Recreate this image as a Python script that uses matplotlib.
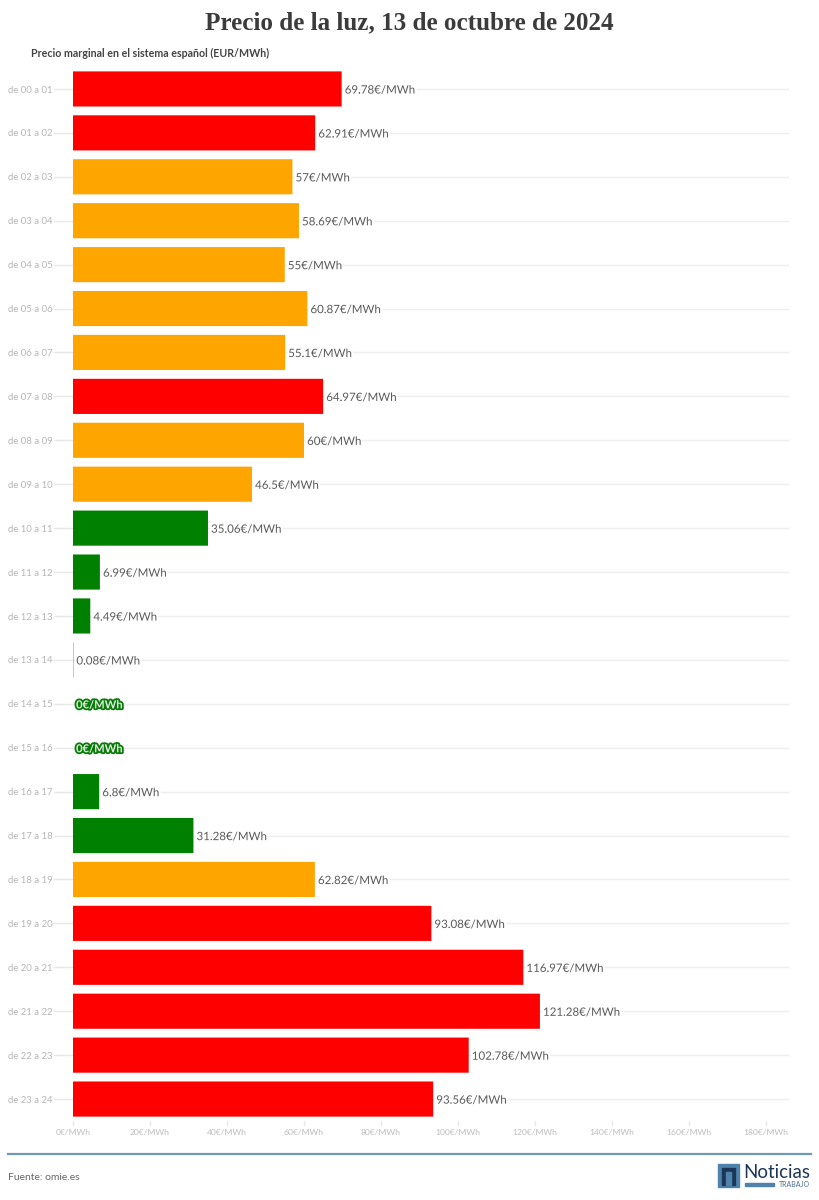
import matplotlib
matplotlib.use('Agg')
import matplotlib.pyplot as plt
import matplotlib.patheffects as pe
from matplotlib.patches import Rectangle

plt.rcParams['font.family'] = ['Lato', 'DejaVu Sans']

# data
horas = ['de %02d a %02d' % (h, h + 1) for h in range(24)]
precios = [69.78, 62.91, 57, 58.69, 55, 60.87, 55.1, 64.97, 60, 46.5, 35.06, 6.99,
           4.49, 0.08, 0, 0, 6.8, 31.28, 62.82, 93.08, 116.97, 121.28, 102.78, 93.56]
colores = ['red', 'red', 'orange', 'orange', 'orange', 'orange', 'orange', 'red',
           'orange', 'orange', 'green', 'green', 'green', 'green', 'green', 'green',
           'green', 'green', 'orange', 'red', 'red', 'red', 'red', 'red']
ticks = [0, 20, 40, 60, 80, 100, 120, 140, 160, 180]

W, H = 819, 1200
fig = plt.figure(figsize=(W / 100, H / 100), dpi=100, facecolor='white')

# axes box in pixels: x 73-789, y 67-1121
ax = fig.add_axes([73 / W, 1 - 1121 / H, (789 - 73) / W, (1121 - 67) / H])
ax.set_xlim(0, (789 - 73) / 3.85)
ax.set_ylim(23.5, -0.5)
ax.axis('off')

pos = list(range(24))
ax.hlines(pos, 0, 1, transform=ax.get_yaxis_transform(), color='#eeeeee', lw=1, zorder=1)
bars = ax.barh(pos, precios, height=0.8, color=colores, edgecolor='none', zorder=2)
for b in bars:
    b.set_snap(False)

dy = 0.025  # text sits about 1px lower than the line
for y, valor, lab in zip(pos, precios, horas):
    # little tick joining the hour label to the axis
    ax.plot([-5, 0], [y, y], color='#e8e8e8', lw=1, clip_on=False, zorder=1)
    ax.text(-5.2, y + dy, lab, ha='right', va='center', fontsize=6.9, color='#b5b5b5')
    txt = '%g€/MWh' % valor
    if valor == 0:
        t = ax.text(0.8, y + dy, txt, ha='left', va='center', fontsize=8, color='#dff0df',
                    fontweight='bold', zorder=4)
        t.set_path_effects([pe.withStroke(linewidth=2.6, foreground='#0a7a0a')])
    else:
        t = ax.text(valor + 0.8, y + dy, txt, ha='left', va='center', fontsize=8.3,
                    color='#5a5a5a', zorder=4)
        t.set_path_effects([pe.withStroke(linewidth=3, foreground='white')])

for v in ticks:
    ax.plot([v, v], [23.5, 23.6], color='#e8e8e8', lw=1, clip_on=False)
    ax.annotate('%d€/MWh' % v, (v, 23.5), xytext=(0, -8.6), textcoords='offset points',
                ha='center', va='center', fontsize=6.1, color='#bdbdbd', annotation_clip=False)

fig.text(409.5 / W, 1 - 23 / H, 'Precio de la luz, 13 de octubre de 2024', ha='center', va='center',
         fontsize=18.1, fontweight='bold', color='#3b3b3b', family=['Liberation Serif'])
fig.text(31 / W, 1 - 53 / H, 'Precio marginal en el sistema español (EUR/MWh)', ha='left', va='center',
         fontsize=7.65, fontweight='bold', color='#444444')

# footer
fig.add_artist(plt.Line2D([8 / W, 811 / W], [1 - 1154 / H] * 2, color='#6f9ab3', lw=1.6))
fig.text(8 / W, 1 - 1177 / H, 'Fuente: omie.es', ha='left', va='center', fontsize=7.5, color='#666666')

# logo
fig.add_artist(Rectangle((718 / W, 1 - 1187 / H), 21 / W, 23 / H, transform=fig.transFigure, color='#4f83ab'))
fig.add_artist(Rectangle((722 / W, 1 - 1185 / H), 13 / W, 17 / H, transform=fig.transFigure, color='#1d3557'))
fig.add_artist(Rectangle((726 / W, 1 - 1185 / H), 5 / W, 13 / H, transform=fig.transFigure, color='#4f83ab'))
fig.add_artist(Rectangle((745 / W, 1 - 1186 / H), 29 / W, 3 / H, transform=fig.transFigure, color='#4f83ab'))
fig.text(810 / W, 1 - 1173 / H, 'Noticias', ha='right', va='center', fontsize=13.5, color='#1d3557')
fig.text(810 / W, 1 - 1184.5 / H, 'TRABAJO', ha='right', va='center', fontsize=5, color='#4f6f8f')

fig.savefig('out.png', dpi=100)
